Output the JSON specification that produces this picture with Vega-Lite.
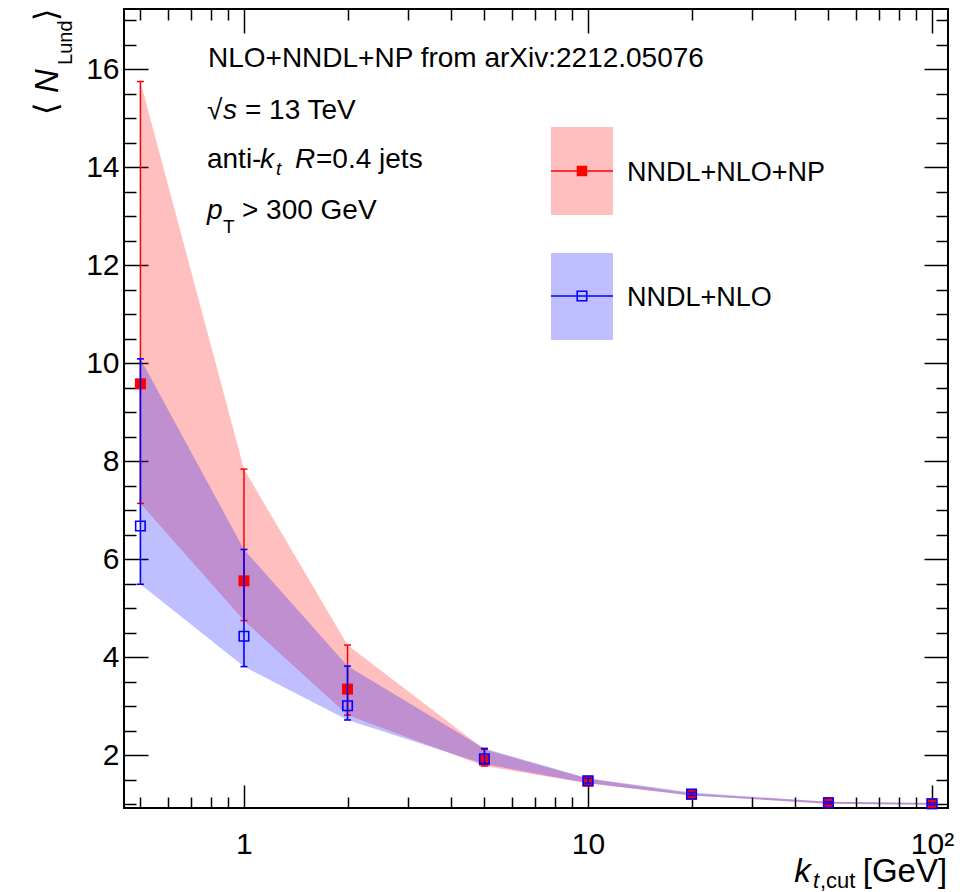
{
  "$schema": "https://vega.github.io/schema/vega-lite/v6.json",
  "width": 824,
  "height": 799,
  "autosize": {"type": "none"},
  "padding": {"left": 124, "top": 9, "right": 28, "bottom": 84},
  "background": "#ffffff",
  "config": {
    "font": "Liberation Sans",
    "view": {"stroke": "#000000", "strokeWidth": 2},
    "axis": {"grid": false, "domain": false, "labelColor": "#000000", "tickColor": "#000000", "tickWidth": 1.5, "labelFont": "Liberation Sans"}
  },
  "datasets": {
    "lund": [
      {"kt": 0.5, "model": "NNDL+NLO+NP", "n": 9.58, "lo": 7.14, "hi": 15.75},
      {"kt": 1, "model": "NNDL+NLO+NP", "n": 5.56, "lo": 4.75, "hi": 7.84},
      {"kt": 2, "model": "NNDL+NLO+NP", "n": 3.35, "lo": 2.82, "hi": 4.25},
      {"kt": 5, "model": "NNDL+NLO+NP", "n": 1.9, "lo": 1.78, "hi": 2.12},
      {"kt": 10, "model": "NNDL+NLO+NP", "n": 1.47, "lo": 1.43, "hi": 1.52},
      {"kt": 20, "model": "NNDL+NLO+NP", "n": 1.2, "lo": 1.18, "hi": 1.22},
      {"kt": 50, "model": "NNDL+NLO+NP", "n": 1.03, "lo": 1.01, "hi": 1.05},
      {"kt": 100, "model": "NNDL+NLO+NP", "n": 1.01, "lo": 0.99, "hi": 1.02},
      {"kt": 0.5, "model": "NNDL+NLO", "n": 6.68, "lo": 5.49, "hi": 10.09},
      {"kt": 1, "model": "NNDL+NLO", "n": 4.43, "lo": 3.81, "hi": 6.2},
      {"kt": 2, "model": "NNDL+NLO", "n": 3.01, "lo": 2.72, "hi": 3.82},
      {"kt": 5, "model": "NNDL+NLO", "n": 1.93, "lo": 1.82, "hi": 2.14},
      {"kt": 10, "model": "NNDL+NLO", "n": 1.48, "lo": 1.43, "hi": 1.53},
      {"kt": 20, "model": "NNDL+NLO", "n": 1.21, "lo": 1.18, "hi": 1.24},
      {"kt": 50, "model": "NNDL+NLO", "n": 1.03, "lo": 1.01, "hi": 1.05},
      {"kt": 100, "model": "NNDL+NLO", "n": 1.01, "lo": 0.99, "hi": 1.03}
    ],
    "key": [
      {"model": "NNDL+NLO+NP", "left": 7.806, "right": 11.82, "bottom": 13.027, "top": 14.822, "mid": 13.924, "marker": 9.606, "labelkt": 12.985, "labeln": 13.727},
      {"model": "NNDL+NLO", "left": 7.806, "right": 11.82, "bottom": 10.476, "top": 12.251, "mid": 11.373, "marker": 9.606, "labelkt": 12.985, "labeln": 11.169}
    ],
    "notes": [
      {"part": "body", "kt": 0.7858, "n": 16.041, "txt": "NLO+NNDL+NP from arXiv:2212.05076"},
      {"part": "body", "kt": 0.7806, "n": 14.98, "txt": "√"},
      {"part": "body", "kt": 1.0067, "n": 14.98, "txt": "= 13 TeV"},
      {"part": "body", "kt": 0.7806, "n": 13.98, "txt": "anti-"},
      {"part": "body", "kt": 1.6196, "n": 13.98, "txt": "=0.4 jets"},
      {"part": "body", "kt": 0.9867, "n": 12.945, "txt": "> 300 GeV"},
      {"part": "symbol", "kt": 0.8687, "n": 14.98, "txt": "s"},
      {"part": "symbol", "kt": 1.113, "n": 13.98, "txt": "k"},
      {"part": "symbol", "kt": 1.4069, "n": 13.98, "txt": "R"},
      {"part": "symbol", "kt": 0.7806, "n": 12.945, "txt": "p"},
      {"part": "index", "kt": 1.2387, "n": 13.843, "txt": "t"},
      {"part": "indexroman", "kt": 0.8687, "n": 12.659, "txt": "T"},
      {"part": "xvar", "kt": 39.8, "n": -0.586, "txt": "k"},
      {"part": "xindex", "kt": 45.09, "n": -0.708, "txt": "t"},
      {"part": "xcut", "kt": 47.25, "n": -0.708, "txt": ",cut"},
      {"part": "xunit", "kt": 62.9, "n": -0.586, "txt": "[GeV]"},
      {"part": "ybracket", "kt": 0.286, "n": 15.067, "txt": "⟨"},
      {"part": "ybracket", "kt": 0.286, "n": 16.986, "txt": "⟩"},
      {"part": "yvar", "kt": 0.2879, "n": 15.516, "txt": "N"},
      {"part": "yindex", "kt": 0.3162, "n": 16.088, "txt": "Lund"}
    ]
  },
  "resolve": {"axis": {"x": "independent", "y": "independent"}},
  "layer": [
    {
      "data": {"name": "lund"},
      "transform": [{"filter": "datum.model == 'NNDL+NLO+NP'"}],
      "mark": {"type": "area", "color": "#ff0000", "opacity": 0.25},
      "encoding": {
        "x": {"field": "kt", "type": "quantitative", "scale": {"type": "log", "domain": [0.448, 111.3], "nice": false},
              "axis": {"orient": "bottom", "values": [1, 10, 100], "ticks": false, "tickSize": 0, "labelFontSize": 30, "labelPadding": 21, "labelFlush": false, "labelOverlap": false, "labelBound": false, "labelExpr": "datum.value == 1 ? '1' : datum.value == 10 ? '10' : '10²'", "title": null}},
        "y": {"field": "lo", "type": "quantitative", "scale": {"domain": [0.924, 17.23], "nice": false, "zero": false},
              "axis": {"orient": "left", "values": [2, 4, 6, 8, 10, 12, 14, 16], "ticks": false, "tickSize": 0, "labelFontSize": 30, "labelPadding": 5, "labelFlush": false, "labelOverlap": false, "format": "d", "title": null}},
        "y2": {"field": "hi"}
      }
    },
    {
      "data": {"name": "lund"},
      "transform": [{"filter": "datum.model == 'NNDL+NLO'"}],
      "mark": {"type": "area", "color": "#0000ff", "opacity": 0.25},
      "encoding": {
        "x": {"field": "kt", "type": "quantitative", "scale": {"type": "log", "domain": [0.448, 111.3], "nice": false},
              "axis": {"orient": "bottom", "values": [1, 10, 100], "offset": -23, "tickSize": 23, "labels": false, "title": null}},
        "y": {"field": "lo", "type": "quantitative", "scale": {"domain": [0.924, 17.23], "nice": false, "zero": false},
              "axis": {"orient": "left", "values": [2, 4, 6, 8, 10, 12, 14, 16], "offset": -24, "tickSize": 24, "labels": false, "title": null}},
        "y2": {"field": "hi"}
      }
    },
    {
      "data": {"name": "lund"},
      "transform": [{"filter": "datum.model == 'NNDL+NLO+NP'"}],
      "mark": {"type": "rule", "color": "#ff0000", "strokeWidth": 1.5},
      "encoding": {
        "x": {"field": "kt", "type": "quantitative", "scale": {"type": "log", "domain": [0.448, 111.3], "nice": false},
              "axis": {"orient": "bottom", "values": [0.5, 0.6, 0.7, 0.8, 0.9, 2, 3, 4, 5, 6, 7, 8, 9, 20, 30, 40, 50, 60, 70, 80, 90], "offset": -11, "tickSize": 11, "labels": false, "title": null}},
        "y": {"field": "lo", "type": "quantitative", "scale": {"domain": [0.924, 17.23], "nice": false, "zero": false},
              "axis": {"orient": "left", "values": [1, 1.5, 2.5, 3, 3.5, 4.5, 5, 5.5, 6.5, 7, 7.5, 8.5, 9, 9.5, 10.5, 11, 11.5, 12.5, 13, 13.5, 14.5, 15, 15.5, 16.5, 17], "offset": -12, "tickSize": 12, "labels": false, "title": null}},
        "y2": {"field": "hi"}
      }
    },
    {
      "data": {"name": "lund"},
      "transform": [{"filter": "datum.model == 'NNDL+NLO+NP'"}, {"fold": ["lo", "hi"], "as": ["end", "edge"]}],
      "mark": {"type": "tick", "orient": "horizontal", "color": "#ff0000", "size": 7, "thickness": 1.5, "opacity": 1},
      "encoding": {
        "x": {"field": "kt", "type": "quantitative", "scale": {"type": "log", "domain": [0.448, 111.3], "nice": false},
              "axis": {"orient": "top", "values": [1, 10, 100], "offset": -24, "tickSize": 24, "labels": false, "title": null}},
        "y": {"field": "edge", "type": "quantitative", "scale": {"domain": [0.924, 17.23], "nice": false, "zero": false},
              "axis": {"orient": "right", "values": [2, 4, 6, 8, 10, 12, 14, 16], "offset": -24, "tickSize": 24, "labels": false, "title": null}}
      }
    },
    {
      "data": {"name": "lund"},
      "transform": [{"filter": "datum.model == 'NNDL+NLO+NP'"}],
      "mark": {"type": "point", "shape": "square", "filled": true, "color": "#ff0000", "size": 121, "opacity": 1},
      "encoding": {
        "x": {"field": "kt", "type": "quantitative", "scale": {"type": "log", "domain": [0.448, 111.3], "nice": false},
              "axis": {"orient": "top", "values": [0.5, 0.6, 0.7, 0.8, 0.9, 2, 3, 4, 5, 6, 7, 8, 9, 20, 30, 40, 50, 60, 70, 80, 90], "offset": -11, "tickSize": 11, "labels": false, "title": null}},
        "y": {"field": "n", "type": "quantitative", "scale": {"domain": [0.924, 17.23], "nice": false, "zero": false},
              "axis": {"orient": "right", "values": [1, 1.5, 2.5, 3, 3.5, 4.5, 5, 5.5, 6.5, 7, 7.5, 8.5, 9, 9.5, 10.5, 11, 11.5, 12.5, 13, 13.5, 14.5, 15, 15.5, 16.5, 17], "offset": -12, "tickSize": 12, "labels": false, "title": null}}
      }
    },
    {
      "data": {"name": "lund"},
      "transform": [{"filter": "datum.model == 'NNDL+NLO'"}],
      "mark": {"type": "rule", "color": "#0000ff", "strokeWidth": 1.6},
      "encoding": {
        "x": {"field": "kt", "type": "quantitative", "scale": {"type": "log", "domain": [0.448, 111.3], "nice": false}, "axis": null},
        "y": {"field": "lo", "type": "quantitative", "scale": {"domain": [0.924, 17.23], "nice": false, "zero": false}, "axis": null},
        "y2": {"field": "hi"}
      }
    },
    {
      "data": {"name": "lund"},
      "transform": [{"filter": "datum.model == 'NNDL+NLO'"}, {"fold": ["lo", "hi"], "as": ["end", "edge"]}],
      "mark": {"type": "tick", "orient": "horizontal", "color": "#0000ff", "size": 7, "thickness": 1.6, "opacity": 1},
      "encoding": {
        "x": {"field": "kt", "type": "quantitative", "scale": {"type": "log", "domain": [0.448, 111.3], "nice": false}, "axis": null},
        "y": {"field": "edge", "type": "quantitative", "scale": {"domain": [0.924, 17.23], "nice": false, "zero": false}, "axis": null}
      }
    },
    {
      "data": {"name": "lund"},
      "transform": [{"filter": "datum.model == 'NNDL+NLO'"}],
      "mark": {"type": "point", "shape": "square", "filled": false, "color": "#0000ff", "strokeWidth": 1.6, "size": 90, "opacity": 1},
      "encoding": {
        "x": {"field": "kt", "type": "quantitative", "scale": {"type": "log", "domain": [0.448, 111.3], "nice": false}, "axis": null},
        "y": {"field": "n", "type": "quantitative", "scale": {"domain": [0.924, 17.23], "nice": false, "zero": false}, "axis": null}
      }
    },
    {
      "data": {"name": "key"},
      "mark": {"type": "rect", "opacity": 0.25},
      "encoding": {
        "x": {"field": "left", "type": "quantitative", "scale": {"type": "log", "domain": [0.448, 111.3], "nice": false}, "axis": null},
        "x2": {"field": "right"},
        "y": {"field": "bottom", "type": "quantitative", "scale": {"domain": [0.924, 17.23], "nice": false, "zero": false}, "axis": null},
        "y2": {"field": "top"},
        "color": {"field": "model", "type": "nominal", "scale": {"domain": ["NNDL+NLO+NP", "NNDL+NLO"], "range": ["#ff0000", "#0000ff"]}, "legend": null}
      }
    },
    {
      "data": {"name": "key"},
      "mark": {"type": "rule", "strokeWidth": 1.5},
      "encoding": {
        "x": {"field": "left", "type": "quantitative", "scale": {"type": "log", "domain": [0.448, 111.3], "nice": false}, "axis": null},
        "x2": {"field": "right"},
        "y": {"field": "mid", "type": "quantitative", "scale": {"domain": [0.924, 17.23], "nice": false, "zero": false}, "axis": null},
        "color": {"field": "model", "type": "nominal", "scale": {"domain": ["NNDL+NLO+NP", "NNDL+NLO"], "range": ["#ff0000", "#0000ff"]}, "legend": null}
      }
    },
    {
      "data": {"name": "key"},
      "transform": [{"filter": "datum.model == 'NNDL+NLO+NP'"}],
      "mark": {"type": "point", "shape": "square", "filled": true, "color": "#ff0000", "size": 110, "opacity": 1},
      "encoding": {
        "x": {"field": "marker", "type": "quantitative", "scale": {"type": "log", "domain": [0.448, 111.3], "nice": false}, "axis": null},
        "y": {"field": "mid", "type": "quantitative", "scale": {"domain": [0.924, 17.23], "nice": false, "zero": false}, "axis": null}
      }
    },
    {
      "data": {"name": "key"},
      "transform": [{"filter": "datum.model == 'NNDL+NLO'"}],
      "mark": {"type": "point", "shape": "square", "filled": false, "color": "#0000ff", "strokeWidth": 1.6, "size": 90, "opacity": 1},
      "encoding": {
        "x": {"field": "marker", "type": "quantitative", "scale": {"type": "log", "domain": [0.448, 111.3], "nice": false}, "axis": null},
        "y": {"field": "mid", "type": "quantitative", "scale": {"domain": [0.924, 17.23], "nice": false, "zero": false}, "axis": null}
      }
    },
    {
      "data": {"name": "key"},
      "mark": {"type": "text", "align": "left", "baseline": "alphabetic", "fontSize": 27, "color": "#000000"},
      "encoding": {
        "x": {"field": "labelkt", "type": "quantitative", "scale": {"type": "log", "domain": [0.448, 111.3], "nice": false}, "axis": null},
        "y": {"field": "labeln", "type": "quantitative", "scale": {"domain": [0.924, 17.23], "nice": false, "zero": false}, "axis": null},
        "text": {"field": "model"}
      }
    },
    {
      "data": {"name": "notes"},
      "transform": [{"filter": "datum.part == 'body'"}],
      "mark": {"type": "text", "align": "left", "baseline": "alphabetic", "fontSize": 28, "color": "#000000"},
      "encoding": {
        "x": {"field": "kt", "type": "quantitative", "scale": {"type": "log", "domain": [0.448, 111.3], "nice": false}, "axis": null},
        "y": {"field": "n", "type": "quantitative", "scale": {"domain": [0.924, 17.23], "nice": false, "zero": false}, "axis": null},
        "text": {"field": "txt"}
      }
    },
    {
      "data": {"name": "notes"},
      "transform": [{"filter": "datum.part == 'symbol'"}],
      "mark": {"type": "text", "align": "left", "baseline": "alphabetic", "fontSize": 28, "fontStyle": "italic", "color": "#000000"},
      "encoding": {
        "x": {"field": "kt", "type": "quantitative", "scale": {"type": "log", "domain": [0.448, 111.3], "nice": false}, "axis": null},
        "y": {"field": "n", "type": "quantitative", "scale": {"domain": [0.924, 17.23], "nice": false, "zero": false}, "axis": null},
        "text": {"field": "txt"}
      }
    },
    {
      "data": {"name": "notes"},
      "transform": [{"filter": "datum.part == 'index'"}],
      "mark": {"type": "text", "align": "left", "baseline": "alphabetic", "fontSize": 19, "fontStyle": "italic", "color": "#000000"},
      "encoding": {
        "x": {"field": "kt", "type": "quantitative", "scale": {"type": "log", "domain": [0.448, 111.3], "nice": false}, "axis": null},
        "y": {"field": "n", "type": "quantitative", "scale": {"domain": [0.924, 17.23], "nice": false, "zero": false}, "axis": null},
        "text": {"field": "txt"}
      }
    },
    {
      "data": {"name": "notes"},
      "transform": [{"filter": "datum.part == 'indexroman'"}],
      "mark": {"type": "text", "align": "left", "baseline": "alphabetic", "fontSize": 19, "color": "#000000"},
      "encoding": {
        "x": {"field": "kt", "type": "quantitative", "scale": {"type": "log", "domain": [0.448, 111.3], "nice": false}, "axis": null},
        "y": {"field": "n", "type": "quantitative", "scale": {"domain": [0.924, 17.23], "nice": false, "zero": false}, "axis": null},
        "text": {"field": "txt"}
      }
    },
    {
      "data": {"name": "notes"},
      "transform": [{"filter": "datum.part == 'xvar'"}],
      "mark": {"type": "text", "align": "left", "baseline": "alphabetic", "fontSize": 33, "fontStyle": "italic", "color": "#000000"},
      "encoding": {
        "x": {"field": "kt", "type": "quantitative", "scale": {"type": "log", "domain": [0.448, 111.3], "nice": false}, "axis": null},
        "y": {"field": "n", "type": "quantitative", "scale": {"domain": [0.924, 17.23], "nice": false, "zero": false}, "axis": null},
        "text": {"field": "txt"}
      }
    },
    {
      "data": {"name": "notes"},
      "transform": [{"filter": "datum.part == 'xindex'"}],
      "mark": {"type": "text", "align": "left", "baseline": "alphabetic", "fontSize": 22, "fontStyle": "italic", "color": "#000000"},
      "encoding": {
        "x": {"field": "kt", "type": "quantitative", "scale": {"type": "log", "domain": [0.448, 111.3], "nice": false}, "axis": null},
        "y": {"field": "n", "type": "quantitative", "scale": {"domain": [0.924, 17.23], "nice": false, "zero": false}, "axis": null},
        "text": {"field": "txt"}
      }
    },
    {
      "data": {"name": "notes"},
      "transform": [{"filter": "datum.part == 'xcut'"}],
      "mark": {"type": "text", "align": "left", "baseline": "alphabetic", "fontSize": 22, "color": "#000000"},
      "encoding": {
        "x": {"field": "kt", "type": "quantitative", "scale": {"type": "log", "domain": [0.448, 111.3], "nice": false}, "axis": null},
        "y": {"field": "n", "type": "quantitative", "scale": {"domain": [0.924, 17.23], "nice": false, "zero": false}, "axis": null},
        "text": {"field": "txt"}
      }
    },
    {
      "data": {"name": "notes"},
      "transform": [{"filter": "datum.part == 'xunit'"}],
      "mark": {"type": "text", "align": "left", "baseline": "alphabetic", "fontSize": 33, "color": "#000000"},
      "encoding": {
        "x": {"field": "kt", "type": "quantitative", "scale": {"type": "log", "domain": [0.448, 111.3], "nice": false}, "axis": null},
        "y": {"field": "n", "type": "quantitative", "scale": {"domain": [0.924, 17.23], "nice": false, "zero": false}, "axis": null},
        "text": {"field": "txt"}
      }
    },
    {
      "data": {"name": "notes"},
      "transform": [{"filter": "datum.part == 'ybracket'"}],
      "mark": {"type": "text", "align": "left", "baseline": "alphabetic", "fontSize": 32, "font": "DejaVu Sans", "angle": 270, "color": "#000000"},
      "encoding": {
        "x": {"field": "kt", "type": "quantitative", "scale": {"type": "log", "domain": [0.448, 111.3], "nice": false}, "axis": null},
        "y": {"field": "n", "type": "quantitative", "scale": {"domain": [0.924, 17.23], "nice": false, "zero": false}, "axis": null},
        "text": {"field": "txt"}
      }
    },
    {
      "data": {"name": "notes"},
      "transform": [{"filter": "datum.part == 'yvar'"}],
      "mark": {"type": "text", "align": "left", "baseline": "alphabetic", "fontSize": 33, "fontStyle": "italic", "angle": 270, "color": "#000000"},
      "encoding": {
        "x": {"field": "kt", "type": "quantitative", "scale": {"type": "log", "domain": [0.448, 111.3], "nice": false}, "axis": null},
        "y": {"field": "n", "type": "quantitative", "scale": {"domain": [0.924, 17.23], "nice": false, "zero": false}, "axis": null},
        "text": {"field": "txt"}
      }
    },
    {
      "data": {"name": "notes"},
      "transform": [{"filter": "datum.part == 'yindex'"}],
      "mark": {"type": "text", "align": "left", "baseline": "alphabetic", "fontSize": 20, "angle": 270, "color": "#000000"},
      "encoding": {
        "x": {"field": "kt", "type": "quantitative", "scale": {"type": "log", "domain": [0.448, 111.3], "nice": false}, "axis": null},
        "y": {"field": "n", "type": "quantitative", "scale": {"domain": [0.924, 17.23], "nice": false, "zero": false}, "axis": null},
        "text": {"field": "txt"}
      }
    }
  ]
}
